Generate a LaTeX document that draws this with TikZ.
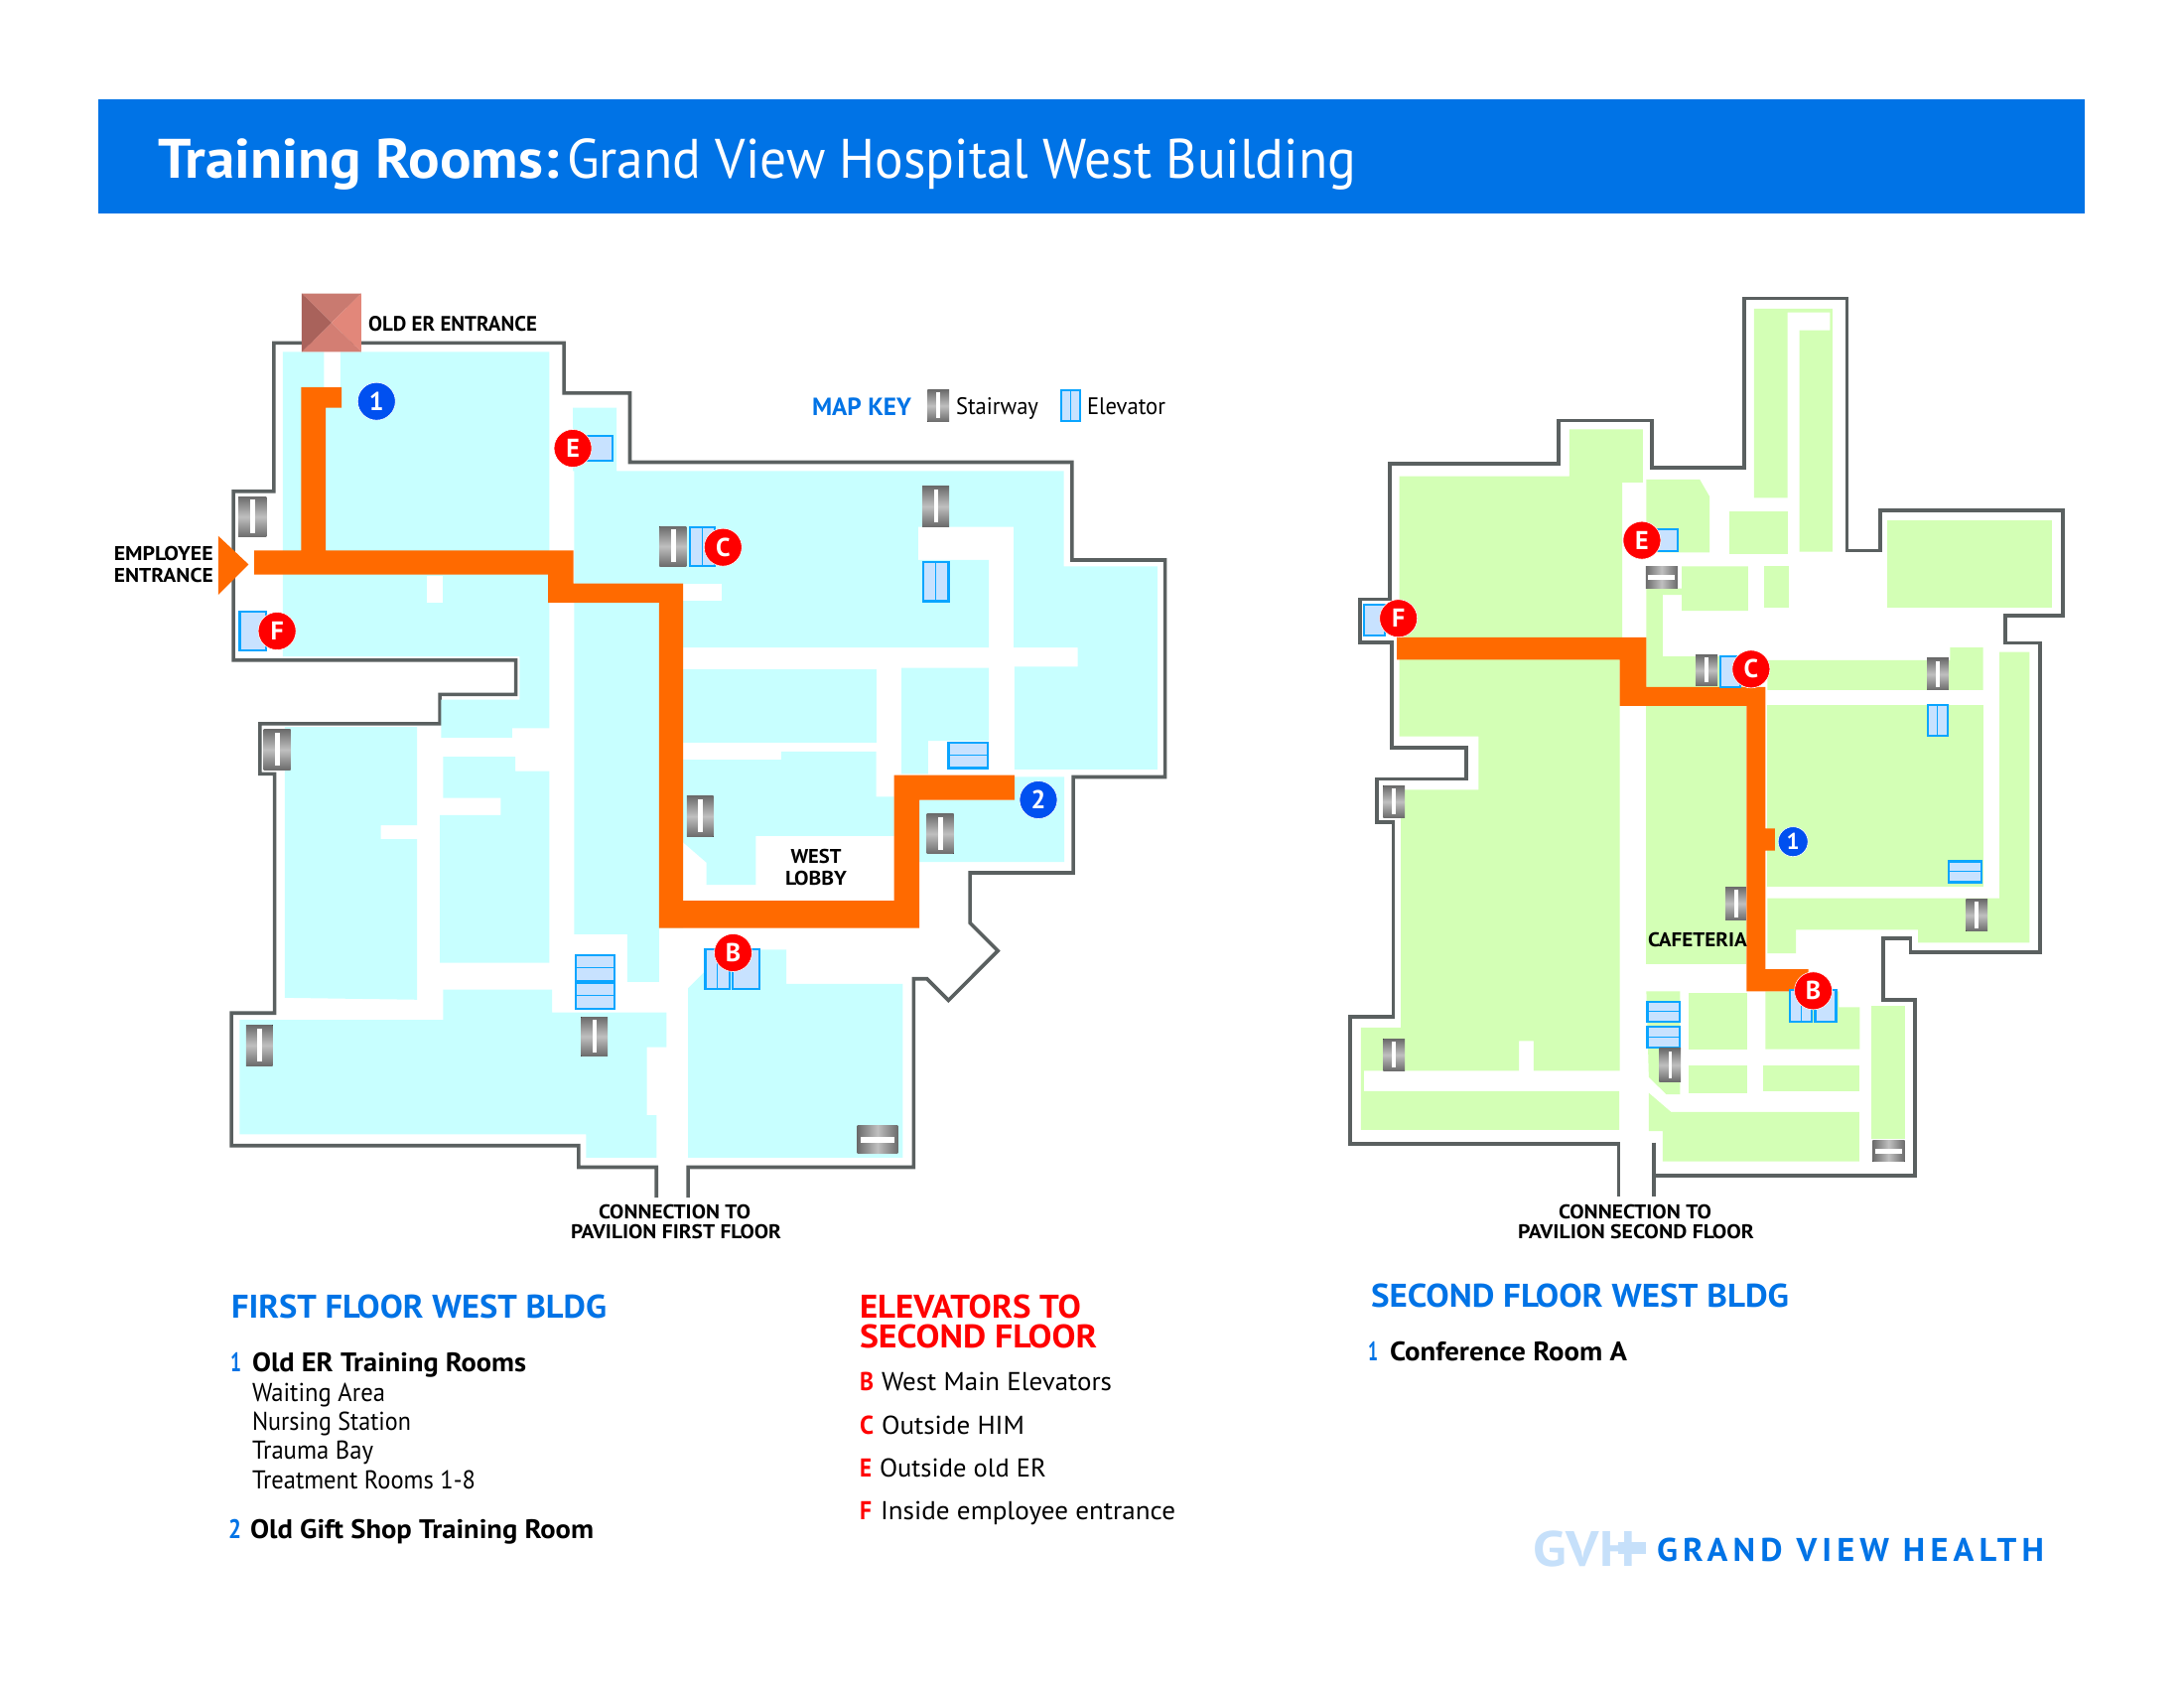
\documentclass[tikz,border=0pt]{standalone}
\usepackage{graphicx}
\usepackage{fontspec}
\setmainfont{PT Sans}
\definecolor{gvh}{HTML}{0073E6}
\definecolor{wallc}{HTML}{5A6060}
\definecolor{cyanroom}{HTML}{C8FFFF}
\definecolor{greenroom}{HTML}{D3FFB5}
\definecolor{routec}{HTML}{FF6A00}
\definecolor{elevf}{HTML}{C8E2FF}
\definecolor{elevd}{HTML}{0AA5FF}
\definecolor{redm}{HTML}{FF0000}
\definecolor{bluem}{HTML}{0050F0}
\definecolor{logol}{HTML}{C6E0FA}
\newcommand\tw[3]{\resizebox{#1pt}{\height}{\fontsize{#2pt}{#2pt}\selectfont #3}}
\newcommand\stv[4]{%
  \fill[top color=black!58,bottom color=black!58,middle color=black!25] (#1,#2) rectangle (#3,#4);
  \pgfmathsetmacro\sa{#1+0.42*(#3-#1)}\pgfmathsetmacro\sb{#1+0.60*(#3-#1)}%
  \pgfmathsetmacro\sc{#2+0.08*(#4-#2)}\pgfmathsetmacro\sd{#4-0.1*(#4-#2)}%
  \fill[white] (\sa,\sc) rectangle (\sb,\sd);}
\newcommand\sth[4]{%
  \fill[left color=black!58,right color=black!58,middle color=black!25] (#1,#2) rectangle (#3,#4);
  \pgfmathsetmacro\sa{#1+0.08*(#3-#1)}\pgfmathsetmacro\sb{#3-0.08*(#3-#1)}%
  \pgfmathsetmacro\sc{#2+0.40*(#4-#2)}\pgfmathsetmacro\sd{#2+0.62*(#4-#2)}%
  \fill[white] (\sa,\sc) rectangle (\sb,\sd);}
\newcommand\elv[5]{% vertical divider at #5
  \draw[elevbox] (#1,#2) rectangle (#3,#4);
  \draw[elevdiv] (#5,#2) -- (#5,#4);}
\newcommand\elh[5]{% horizontal divider at #5
  \draw[elevbox] (#1,#2) rectangle (#3,#4);
  \draw[elevdiv] (#1,#5) -- (#3,#5);}
\tikzset{
  wall/.style={draw=wallc,line width=3.6pt,miter limit=10},
  elevbox/.style={draw=elevd,fill=elevf,line width=2.2pt},
  elevdiv/.style={draw=elevd,line width=1pt},
  routef/.style={fill=routec},
  redpin/.style={circle,fill=redm,draw=white,line width=0.6pt,minimum size=38pt,inner sep=0pt,text=white,font=\fontsize{26}{26}\selectfont\bfseries},
  bluepin/.style={circle,fill=bluem,draw=white,line width=0.6pt,minimum size=38pt,inner sep=0pt,text=white,font=\fontsize{26}{26}\selectfont\bfseries},
  bluesmall/.style={bluepin,minimum size=30pt,font=\fontsize{23}{23}\selectfont\bfseries},
  lbl/.style={anchor=base west,inner sep=0pt,outer sep=0pt},
  lblc/.style={anchor=base,inner sep=0pt,outer sep=0pt}
}
\begin{document}
\begin{tikzpicture}[x=1pt,y=-1pt]
\useasboundingbox (0,0) rectangle (2200,1700);
\fill[white] (0,0) rectangle (2200,1700);
% banner
\fill[gvh] (99,100) rectangle (2100,215);
\node[lbl,text=white] (titleA) at (159,179) {\tw{404}{56}{\bfseries Training Rooms:}};
\node[lbl,text=white] (titleB) at (571,179) {\tw{795}{56}{Grand View Hospital West Building}};

% ===== FIRST FLOOR =====
\begin{scope}[x=0.638pt,y=-0.639pt,xshift=200pt,yshift=-270pt]
\draw[wall] (773,1465)--(773,1417)--(1129,1417)--(1129,1120)--(1150,1120)--(1184,1154)--(1262,1076)--(1218,1032)--(1218,953)--(1381,953)--(1381,802)--(1526,802)--(1526,460)--(1379,460)--(1379,306)--(681,306)--(681,197)--(577,197)--(577,118)--(119,118)--(119,352)--(55,352)--(55,618)--(501,618)--(501,672)--(381,672)--(381,718)--(97,718)--(97,797)--(120,797)--(120,1174)--(52,1174)--(52,1383)--(600,1383)--(600,1417)--(723,1417)--(723,1465);
\begin{scope}[fill=cyanroom]
\fill (133,132)--(198,132)--(198,190)--(224,190)--(224,132)--(554,132)--(554,725)--(495,725)--(495,740)--(383,740)--(383,680)--(507,680)--(507,612)--(133,612)--cycle;
\fill (591,220)--(660,220)--(660,320)--(1366,320)--(1366,470)--(1514,470)--(1514,790)--(1288,790)--(1288,628)--(1388,628)--(1388,598)--(1287,598)--(1287,408)--(1136,408)--(1136,460)--(1248,460)--(1248,598)--(765,598)--(765,1040)--(727,1040)--(727,1125)--(677,1125)--(677,1050)--(593,1050)--(593,320)--(591,320)--cycle;
\fill (765,632) rectangle (1071,748);
\fill (765,775)--(920,775)--(920,762)--(1070,762)--(1070,833)--(1098,833)--(1098,895)--(880,895)--(880,972)--(802,972)--(802,937)--(765,905)--cycle;
\fill (1110,630)--(1248,630)--(1248,745)--(1152,745)--(1152,797)--(1110,797)--cycle;
\fill (1288,802)--(1367,802)--(1367,936)--(1138,936)--(1138,838)--(1288,838)--cycle;
\fill (136,723)--(345,723)--(345,878)--(288,878)--(288,900)--(345,900)--(345,1153)--(136,1150)--cycle;
\fill (386,770)--(500,770)--(500,793)--(554,793)--(554,1095)--(381,1095)--(381,862)--(477,862)--(477,835)--(386,835)--cycle;
\fill (386,1137)--(558,1137)--(558,1173)--(739,1173)--(739,1228)--(708,1228)--(708,1335)--(723,1335)--(723,1402)--(612,1402)--(612,1365)--(65,1365)--(65,1185)--(386,1185)--cycle;
\fill (773,1135)--(800,1108)--(800,1074)--(928,1074)--(928,1128)--(1112,1128)--(1112,1402)--(773,1402)--cycle;
\end{scope}
\fill[white] (360,485) rectangle (386,527);
\fill[white] (765,497) rectangle (826,525);
% route
\fill[routef] (162,188)--(226,188)--(226,220)--(201,220)--(201,445)--(592,445)--(592,497)--(765,497)--(765,997)--(1098,997)--(1098,799)--(1288,799)--(1288,838)--(1138,838)--(1138,1040)--(727,1040)--(727,527)--(552,527)--(552,483)--(88,483)--(88,445)--(162,445)--cycle;
\fill[routef] (31,422)--(79,467)--(31,515)--cycle;
% entrance
\fill[fill={rgb,255:red,201;green,122;blue,112}] (163,40)--(257,40)--(210,86)--cycle;
\fill[fill={rgb,255:red,226;green,135;blue,122}] (257,40)--(257,132)--(210,86)--cycle;
\fill[fill={rgb,255:red,211;green,126;blue,115}] (163,132)--(257,132)--(210,86)--cycle;
\fill[fill={rgb,255:red,169;green,98;blue,91}] (163,40)--(163,132)--(210,86)--cycle;
% elevators
\draw[elevbox] (612,264) rectangle (654,303);
\elv{776}{408}{815}{470}{796}
\draw[elevbox] (65,541) rectangle (106,603);
\elv{1144}{463}{1184}{525}{1164}
\elh{1184}{748}{1246}{788}{768}
\elh{595}{1083}{657}{1124}{1103}
\elh{595}{1127}{657}{1167}{1147}
\elv{800}{1074}{838}{1136}{819}
\draw[elevbox] (843,1074) rectangle (885,1136);
\elv{1362}{192}{1392}{241}{1377}
% stairs
\stv{63}{360}{107}{424}
\stv{728}{407}{770}{470}
\stv{1143}{344}{1185}{407}
\stv{103}{727}{145}{791}
\stv{771}{832}{813}{896}
\stv{1150}{860}{1192}{923}
\stv{75}{1193}{117}{1257}
\stv{604}{1180}{646}{1242}
\sth{1040}{1352}{1104}{1395}
\stv{1151}{192}{1185}{242}
% markers
\node[bluepin] (a1) at (281,210) {1};
\node[bluepin] (a2) at (1326,838) {2};
\node[redpin] (aE) at (591,284) {E};
\node[redpin] (aC) at (828,440) {C};
\node[redpin] (aF) at (124,572) {F};
\node[redpin] (aB) at (844,1079) {B};
\end{scope}

% ===== SECOND FLOOR =====
\begin{scope}[x=0.4975pt,y=-0.639pt,xshift=1340pt,yshift=-270pt]
\draw[wall] (655,1463)--(655,1430)--(1184,1430)--(1184,1153)--(1119,1153)--(1119,1056)--(1175,1056)--(1175,1078)--(1437,1078)--(1437,591)--(1367,591)--(1367,548)--(1483,548)--(1483,382)--(1114,382)--(1114,445)--(1046,445)--(1046,48)--(838,48)--(838,315)--(651,315)--(651,240)--(462,240)--(462,308)--(120,308)--(120,522)--(60,522)--(60,590)--(124,590)--(124,756)--(275,756)--(275,805)--(95,805)--(95,873)--(128,873)--(128,1180)--(40,1180)--(40,1380)--(584,1380)--(584,1463);
\draw[wall] (655,1378)--(655,1430);
\begin{scope}[fill=greenroom]
\fill (140,328)--(484,328)--(484,254)--(633,254)--(633,338)--(591,338)--(591,600)--(586,600)--(586,1265)--(412,1265)--(412,1218)--(382,1218)--(382,1265)--(68,1265)--(68,1297)--(585,1297)--(585,1358)--(62,1358)--(62,1197)--(143,1197)--(143,822)--(300,822)--(300,738)--(140,738)--cycle;
\fill (640,690) rectangle (843,1097);
\fill (640,333)--(748,333)--(768,360)--(768,448)--(640,448)--cycle;
\fill (858,64)--(1017,64)--(1017,447)--(950,447)--(950,98)--(1012,98)--(1012,70)--(926,70)--(926,362)--(858,362)--cycle;
\fill (808,384) rectangle (926,450);
\fill (1128,398) rectangle (1462,535);
\fill (712,470)--(846,470)--(846,540)--(712,540)--(712,515)--(673,515)--(673,612)--(840,612)--(840,660)--(640,660)--(640,505)--(712,505)--cycle;
\fill (878,470) rectangle (928,535);
\fill (885,618)--(1255,618)--(1255,598)--(1322,598)--(1322,665)--(885,665)--cycle;
\fill (885,688) rectangle (1322,975);
\fill (1362,605)--(1416,605)--(1416,1063)--(1190,1063)--(1190,1043)--(943,1043)--(943,1080)--(885,1080)--(885,993)--(1355,993)--(1355,605)--cycle;
\fill (725,1142) rectangle (844,1231);
\fill (881,1140)--(1030,1140)--(1030,1165)--(1072,1165)--(1072,1231)--(881,1231)--cycle;
\fill (726,1257) rectangle (844,1300);
\fill (877,1257) rectangle (1071,1297);
\fill (645,1300)--(690,1330)--(1071,1330)--(1071,1408)--(673,1408)--(673,1360)--(645,1360)--cycle;
\fill (1095,1163) rectangle (1163,1372);
\fill (640,1140)--(708,1140)--(708,1302)--(680,1302)--(645,1275)--cycle;
\end{scope}
% route
\fill[routef] (135,582)--(640,582)--(640,660)--(881,660)--(881,883)--(900,883)--(900,918)--(881,918)--(881,1105)--(968,1105)--(968,1140)--(843,1140)--(843,690)--(586,690)--(586,617)--(135,617)--cycle;
% elevators
\draw[elevbox] (662,412) rectangle (703,446);
\draw[elevbox] (69,530) rectangle (110,579);
\draw[elevbox] (790,612) rectangle (830,660);
\elv{1210}{689}{1250}{737}{1230}
\elh{1252}{935}{1319}{968}{951}
\elh{642}{1157}{708}{1188}{1172}
\elh{642}{1196}{708}{1228}{1212}
\elv{931}{1138}{975}{1188}{953}
\draw[elevbox] (982,1138) rectangle (1024,1188);
% stairs
\stv{107}{816}{151}{866}
\stv{740}{610}{784}{658}
\sth{639}{470}{703}{504}
\stv{1208}{615}{1252}{665}
\stv{800}{975}{842}{1028}
\stv{1287}{995}{1331}{1045}
\stv{107}{1215}{151}{1265}
\stv{666}{1230}{710}{1282}
\sth{1098}{1375}{1163}{1408}
% markers
\node[bluesmall] (b1) at (937,904) {1};
\node[redpin] (bE) at (631,429) {E};
\node[redpin] (bC) at (852,632) {C};
\node[redpin] (bF) at (138,552) {F};
\node[redpin] (bB) at (978,1139) {B};
\end{scope}

% ===== MAP LABELS =====
\node[lbl] (er) at (371,333) {\tw{170}{21}{\bfseries OLD ER ENTRANCE}};
\node[anchor=base east,inner sep=0pt] (emp1) at (215,564) {\tw{100}{20}{\bfseries EMPLOYEE}};
\node[anchor=base east,inner sep=0pt] (emp2) at (215,586) {\tw{100}{20}{\bfseries ENTRANCE}};
\node[lblc] (wl1) at (822,869) {\tw{51}{20}{\bfseries WEST}};
\node[lblc] (wl2) at (822,891) {\tw{62}{20}{\bfseries LOBBY}};
\node[lbl] (c1a) at (603,1227) {\tw{153}{20}{\bfseries CONNECTION TO}};
\node[lbl] (c1b) at (575,1247) {\tw{212}{20}{\bfseries PAVILION FIRST FLOOR}};
\node[lbl] (c2a) at (1570,1227) {\tw{154}{20}{\bfseries CONNECTION TO}};
\node[lbl] (c2b) at (1529,1247) {\tw{238}{20}{\bfseries PAVILION SECOND FLOOR}};
\node[lbl] (caf) at (1660,953) {\tw{100}{20}{\bfseries CAFETERIA}};
\node[lbl,text=gvh] (mk) at (818,418) {\tw{100}{25}{\bfseries MAP KEY}};
\node[lbl] (ks) at (963,417) {\tw{83}{24}{Stairway}};
\node[lbl] (ke) at (1095,417) {\tw{79}{24}{Elevator}};

% ===== LEGEND LEFT =====
\node[lbl,text=gvh] (h1) at (233,1327) {\tw{378}{33}{\bfseries FIRST FLOOR WEST BLDG}};
\node[lbl,text=gvh] (n1) at (232,1381) {\tw{11}{27}{\bfseries 1}};
\node[lbl] (t1) at (254,1381) {\tw{276}{27}{\bfseries Old ER Training Rooms}};
\node[lbl] (t2) at (254,1411) {\tw{134}{26}{Waiting Area}};
\node[lbl] (t3) at (254,1440) {\tw{160}{26}{Nursing Station}};
\node[lbl] (t4) at (254,1469) {\tw{122}{26}{Trauma Bay}};
\node[lbl] (t5) at (254,1499) {\tw{225}{26}{Treatment Rooms 1-8}};
\node[lbl,text=gvh] (n2) at (230,1549) {\tw{13}{27}{\bfseries 2}};
\node[lbl] (t6) at (252,1549) {\tw{346}{27}{\bfseries Old Gift Shop Training Room}};

% ===== LEGEND MIDDLE =====
\node[lbl,text=redm] (h2a) at (866,1327) {\tw{223}{33}{\bfseries ELEVATORS TO}};
\node[lbl,text=redm] (h2b) at (866,1357) {\tw{239}{33}{\bfseries SECOND FLOOR}};
\node[lbl,text=redm] (lb) at (866,1400) {\tw{14}{26}{\bfseries B}};
\node[lbl] (tb) at (888,1400) {\tw{232}{26}{West Main Elevators}};
\node[lbl,text=redm] (lc) at (866,1444) {\tw{14}{26}{\bfseries C}};
\node[lbl] (tc) at (888,1444) {\tw{144}{26}{Outside HIM}};
\node[lbl,text=redm] (le) at (866,1487) {\tw{12}{26}{\bfseries E}};
\node[lbl] (te) at (886,1487) {\tw{168}{26}{Outside old ER}};
\node[lbl,text=redm] (lf) at (866,1530) {\tw{12}{26}{\bfseries F}};
\node[lbl] (tf) at (887,1530) {\tw{297}{26}{Inside employee entrance}};

% ===== LEGEND RIGHT =====
\node[lbl,text=gvh] (h3) at (1381,1316) {\tw{421}{33}{\bfseries SECOND FLOOR WEST BLDG}};
\node[lbl,text=gvh] (n3) at (1378,1370) {\tw{10}{27}{\bfseries 1}};
\node[lbl] (t7) at (1400,1370) {\tw{239}{27}{\bfseries Conference Room A}};
\node[lbl,text=logol] (lg1) at (1544,1577) {\tw{103}{50}{\bfseries GVH}};
\fill[logol] (1630,1553) rectangle (1658,1565);
\node[lbl,text=gvh] (lg2) at (1669,1572) {\tw{390}{33}{\addfontfeatures{LetterSpace=15}\bfseries GRAND VIEW HEALTH}};
\end{tikzpicture}
\end{document}
